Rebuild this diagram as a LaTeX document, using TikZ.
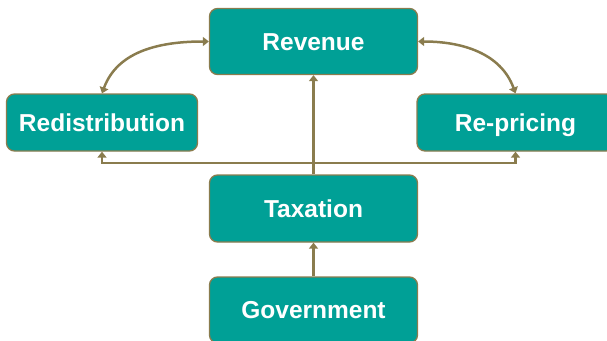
\documentclass[tikz,border=0pt]{standalone}
\usepackage{fontspec}
\setmainfont{Liberation Sans}
\usetikzlibrary{arrows.meta}

\definecolor{boxteal}{RGB}{0,160,150}
\definecolor{lineolive}{RGB}{138,124,78}

\begin{document}
\begin{tikzpicture}[x=1pt, y=-1pt,
	box/.style={rectangle, rounded corners=8pt, fill=boxteal, draw=lineolive,
		line width=1.3pt, text=white, inner sep=0pt, text height=17.5pt, text depth=0pt,
		font=\bfseries\fontsize{24.5}{29}\selectfont},
	link/.style={draw=lineolive, line width=2.5pt,
		arrows={-Triangle[width=9pt,length=6pt]}},
	twolink/.style={link, arrows={Triangle[width=9pt,length=6pt]-Triangle[width=9pt,length=6pt]}}]

\def\midx{313.5}
\def\wide{208}
\def\side{191}

\def\revy{41.5}
\def\sidey{122.5}
\def\taxy{208.5}
\def\govy{310}

\def\forky{163}

% page
\clip (0,0) rectangle (607,340);

% boxes
\node [box, minimum width=\wide, minimum height=66] (revenue) at (\midx,\revy) {Revenue};
\node [box, minimum width=\side, minimum height=57] (redist) at (102,\sidey) {Redistribution};
\node [box, minimum width=\side+6, minimum height=57] (reprice) at (515.5,\sidey) {Re-pricing};
\node [box, minimum width=\wide, minimum height=67] (taxation) at (\midx,\taxy) {Taxation};
\node [box, minimum width=\wide, minimum height=66] (government) at (\midx,\govy) {Government};

% arrows
\coordinate (fork) at (\midx,\forky);

\draw [link] (government) -- (taxation);
\draw [link] (taxation) -- (revenue);
\draw [link] (fork) -| (redist.south);
\draw [link] (fork) -| (reprice.south);

\draw [twolink] (revenue.west) to [out=180, in=70] (redist.north);
\draw [twolink] (revenue.east) to [out=0, in=110] (reprice.north);

\end{tikzpicture}
\end{document}
